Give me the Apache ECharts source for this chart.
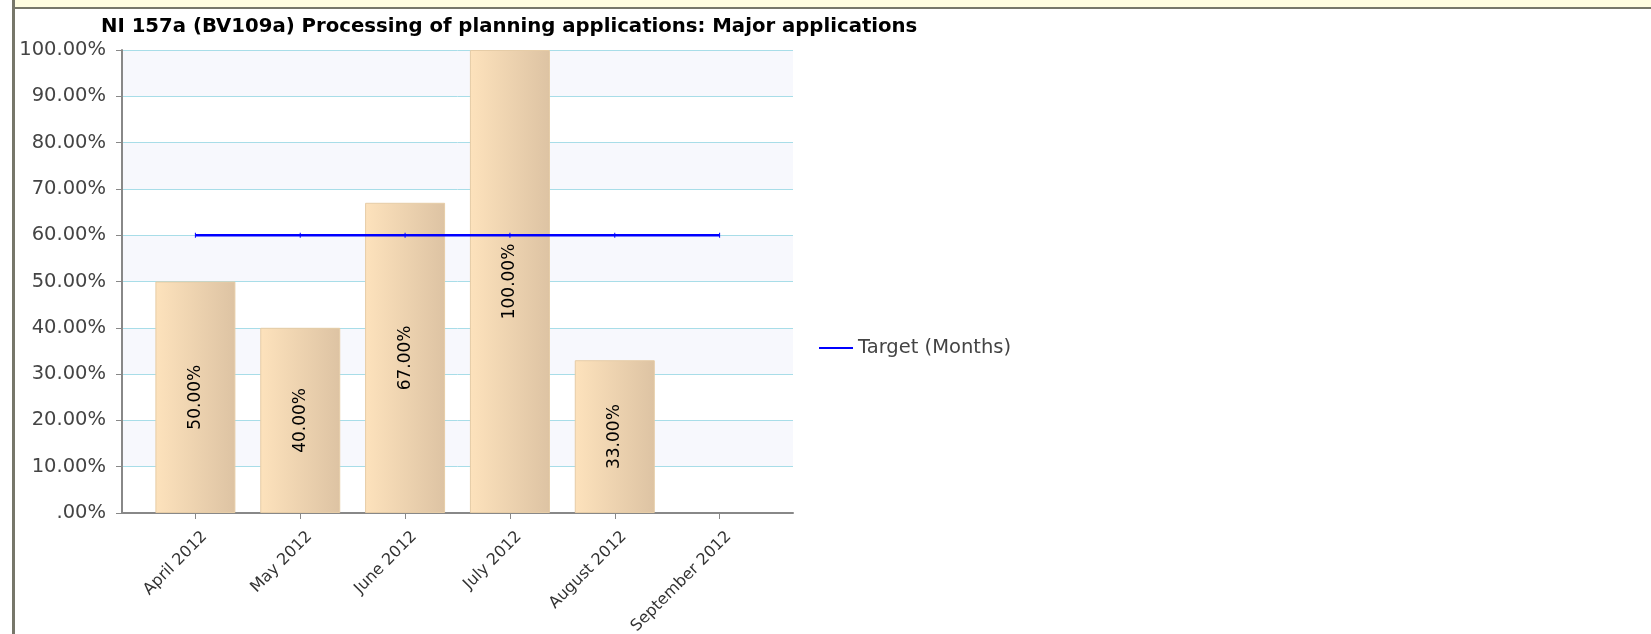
<!DOCTYPE html>
<html>
<head>
<meta charset="utf-8">
<script src="https://cdn.jsdelivr.net/npm/echarts@6/dist/echarts.min.js"></script>
<style>
  body { margin: 0; background: #fff; }
  #main { position: absolute; left: 0; top: 0; width: 1651px; height: 634px; }
  .strip { position: absolute; left: 15px; top: 0; width: 1636px; height: 7px; background: #fffde0; }
  .topline { position: absolute; left: 12px; top: 7px; width: 1639px; height: 2px; background: #77776a; }
  .leftline { position: absolute; left: 12px; top: 0; width: 3px; height: 634px; background: #77776a; }
</style>
</head>
<body>
<div id="main"></div>
<div class="strip"></div>
<div class="topline"></div>
<div class="leftline"></div>
<script>
// chart data
const months = ["April 2012", "May 2012", "June 2012", "July 2012", "August 2012", "September 2012"];
const actual = [50, 40, 67, 100, 33];
const target = [60, 60, 60, 60, 60, 60];

const font = "DejaVu Sans";
let myChart = echarts.init(document.getElementById("main"));
myChart.setOption({
  animation: false,
  backgroundColor: "#fff",
  title: {
    text: "NI 157a (BV109a) Processing of planning applications: Major applications",
    left: 96,
    top: 12,
    textStyle: { fontFamily: font, fontSize: 19.7, fontWeight: "bold", color: "#000" },
  },
  legend: {
    left: 814,
    top: 333,
    itemWidth: 34,
    itemHeight: 2,
    itemGap: 5,
    data: [{ name: "Target (Months)", icon: "rect" }],
    textStyle: { fontFamily: font, fontSize: 19.5, color: "#444" },
  },
  grid: { left: 122, right: 858, top: 50, bottom: 121, outerBoundsMode: "none", containLabel: false },
  xAxis: {
    type: "value",
    min: -0.7,
    max: 5.7,
    axisLine: { show: true, onZero: false, lineStyle: { color: "#888", width: 2 } },
    axisTick: { show: true, length: 6, customValues: months.map((m, i) => i), lineStyle: { color: "#888" } },
    splitLine: { show: false },
    axisLabel: {
      customValues: months.map((m, i) => i),
      formatter: (v) => months[v],
      rotate: 45,
      margin: 12,
      verticalAlign: "top",
      lineHeight: 26,
      fontFamily: font,
      fontSize: 16,
      color: "#333",
    },
  },
  yAxis: {
    type: "value",
    min: 0,
    max: 100,
    interval: 10,
    axisLine: { show: true, onZero: false, lineStyle: { color: "#888", width: 2 } },
    axisTick: { show: true, length: 6, lineStyle: { color: "#888" } },
    splitLine: { show: true, lineStyle: { color: "#a8dde8", width: 1 } },
    splitArea: { show: true, areaStyle: { color: ["#ffffff", "#f7f8fd"] } },
    axisLabel: {
      margin: 16,
      fontFamily: font,
      fontSize: 19.5,
      color: "#444",
      formatter: (v) => (v === 0 ? ".00%" : v.toFixed(2) + "%"),
    },
  },
  series: [
    {
      name: "Actual",
      type: "bar",
      barWidth: 80,
      data: actual.map((v, i) => [i, v]),
      itemStyle: {
        color: new echarts.graphic.LinearGradient(0, 0, 1, 0, [
          { offset: 0, color: "#fde2bc" },
          { offset: 1, color: "#ddc3a3" },
        ]),
        borderColor: "#e6cca6",
        borderWidth: 1,
      },
      label: {
        show: true,
        position: "inside",
        rotate: 90,
        fontFamily: font,
        fontSize: 17,
        color: "#000",
        formatter: (p) => p.value[1].toFixed(2) + "%",
      },
      z: 2,
    },
    {
      name: "Target (Months)",
      type: "line",
      data: target.map((v, i) => [i, v]),
      symbol: "rect",
      symbolSize: [1, 5],
      itemStyle: { color: "#0000ff" },
      lineStyle: { color: "#0000ff", width: 2.5 },
      z: 3,
    },
  ],
});
</script>
</body>
</html>
